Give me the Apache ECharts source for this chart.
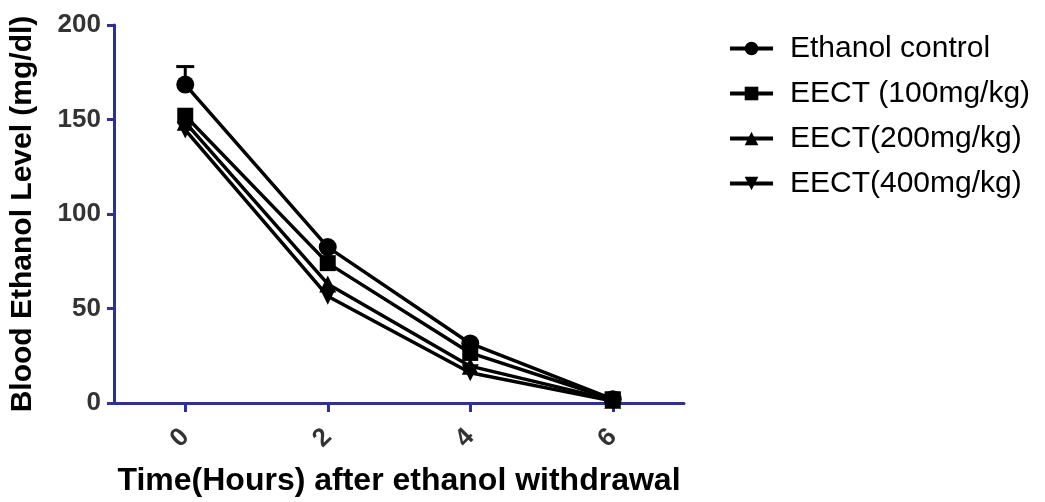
<!DOCTYPE html>
<html>
<head>
<meta charset="utf-8">
<script src="https://cdn.jsdelivr.net/npm/echarts@6/dist/echarts.min.js"></script>
<style>html,body{margin:0;padding:0;background:#fff}#c{width:1045px;height:502px}</style>
</head>
<body>
<div id="c"></div>
<script>
const hours = [0, 2, 4, 6];
const seriesNames = ['Ethanol control', 'EECT (100mg/kg)', 'EECT(200mg/kg)', 'EECT(400mg/kg)'];
const ethanolControl = [168.5, 82.5, 31.5, 2];
const eect100 = [152, 74, 26.5, 2];
const eect200 = [148.5, 63, 19.5, 1.5];
const eect400 = [144.5, 56.5, 16, 1];
const controlErrorUpper = [178, null, null, null];
const yTicks = [0, 50, 100, 150, 200];
const xTicks = [0, 2, 4, 6];

const navy = '#2e3192';
const font = 'Liberation Sans, Arial, sans-serif';
const symbols = ['circle', 'rect', 'triangle', 'triangle'];
const rotations = [0, 0, 0, 180];
const sizes = [18, 16, 17, 17];
const allData = [ethanolControl, eect100, eect200, eect400];

const lineSeries = allData.map((vals, i) => ({
  name: seriesNames[i],
  type: 'line',
  data: hours.map((h, j) => [h, vals[j]]),
  symbol: symbols[i],
  symbolRotate: rotations[i],
  symbolSize: sizes[i],
  showAllSymbol: true,
  lineStyle: { color: '#000', width: 3.5 },
  itemStyle: { color: '#000', borderWidth: 0 },
  z: 5 - i
}));

const errData = hours.map((h, j) => [h, ethanolControl[j], controlErrorUpper[j]]).filter(d => d[2] != null);

const option = {
  animation: false,
  grid: { left: 114, right: 361, top: 25, bottom: 97, containLabel: false },
  legend: {
    orient: 'vertical',
    left: 723,
    top: 28,
    itemGap: 14,
    itemWidth: 43,
    itemHeight: 17,
    lineStyle: { width: 4, color: '#000' },
    textStyle: { fontFamily: font, fontSize: 30, lineHeight: 31, color: '#000', padding: [0, 0, 0, 12] },
    data: seriesNames
  },
  xAxis: {
    type: 'value',
    min: -1,
    max: 7,
    name: 'Time(Hours) after ethanol withdrawal',
    nameLocation: 'middle',
    nameGap: 62,
    nameTextStyle: { fontFamily: font, fontSize: 32, fontWeight: 'bold', color: '#000' },
    axisLine: { show: true, onZero: false, lineStyle: { color: navy, width: 3 } },
    axisTick: { show: true, customValues: xTicks, length: 9, lineStyle: { color: navy, width: 3 } },
    axisLabel: { customValues: xTicks, rotate: 45, margin: 30, fontFamily: font, fontSize: 26, fontWeight: 'bold', color: '#333' },
    splitLine: { show: false }
  },
  yAxis: {
    type: 'value',
    min: 0,
    max: 200,
    interval: 50,
    name: 'Blood Ethanol Level (mg/dl)',
    nameLocation: 'middle',
    nameRotate: 90,
    nameGap: 76,
    nameTextStyle: { fontFamily: font, fontSize: 30, fontWeight: 'bold', color: '#000' },
    axisLine: { show: true, onZero: false, lineStyle: { color: navy, width: 3 } },
    axisTick: { show: true, length: 7, lineStyle: { color: navy, width: 3 } },
    axisLabel: { margin: 13, fontFamily: font, fontSize: 26, fontWeight: 'bold', color: '#333' },
    splitLine: { show: false }
  },
  series: lineSeries.concat([{
    type: 'custom',
    name: 'err',
    data: errData,
    z: 1,
    renderItem: function (params, api) {
      const x = api.value(0);
      const p0 = api.coord([x, api.value(1)]);
      const p1 = api.coord([x, api.value(2)]);
      return {
        type: 'group',
        children: [
          { type: 'line', shape: { x1: p0[0], y1: p0[1], x2: p1[0], y2: p1[1] }, style: { stroke: '#000', lineWidth: 3 } },
          { type: 'line', shape: { x1: p1[0] - 9, y1: p1[1], x2: p1[0] + 9, y2: p1[1] }, style: { stroke: '#000', lineWidth: 3 } }
        ]
      };
    }
  }])
};
echarts.init(document.getElementById('c')).setOption(option);
</script>
</body>
</html>
